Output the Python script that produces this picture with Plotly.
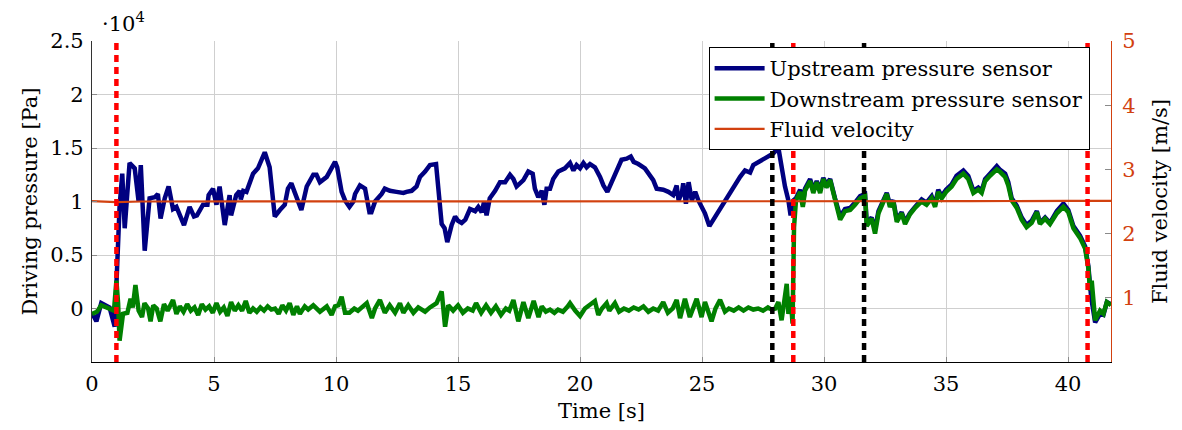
import plotly.graph_objects as go

# ---------------- data (pressure in units of 10^4 Pa, velocity in m/s) ----------------
up_t = [0.0, 0.18, 0.38, 0.72, 0.93, 1.0, 1.13, 1.24, 1.34, 1.54, 1.75, 1.91, 2.0, 2.16, 2.36, 2.57, 2.7, 2.81,
        2.98, 3.14, 3.32, 3.46, 3.77, 4.0, 4.18, 4.3, 4.55, 4.73, 4.78, 4.96, 5.1, 5.23, 5.44, 5.64, 5.7, 5.91,
        6.05, 6.1, 6.2, 6.33, 6.6, 6.8, 7.08, 7.28, 7.49, 7.7, 7.9, 8.03, 8.17, 8.3, 8.58, 8.8, 9.07, 9.2, 9.34,
        9.62, 9.82, 9.96, 10.05, 10.23, 10.37, 10.55, 10.71, 10.78, 10.98, 11.19, 11.37, 11.45, 11.6, 11.87,
        12.0, 12.21, 12.48, 12.76, 12.89, 13.1, 13.3, 13.44, 13.65, 13.85, 14.1, 14.19, 14.33, 14.45, 14.56,
        14.74, 14.88, 15.0, 15.15, 15.3, 15.49, 15.7, 15.83, 15.97, 16.07, 16.17, 16.3, 16.52, 16.72, 16.93,
        17.13, 17.27, 17.4, 17.68, 17.88, 18.06, 18.15, 18.29, 18.43, 18.54, 18.63, 18.77, 18.9, 19.11, 19.38,
        19.59, 19.73, 19.86, 20.0, 20.14, 20.27, 20.41, 20.61, 20.82, 20.96, 21.12, 21.3, 21.5, 21.7, 21.91,
        22.08, 22.2, 22.39, 22.66, 22.87, 23.0, 23.14, 23.41, 23.62, 23.82, 23.96, 24.04, 24.18, 24.23, 24.34,
        24.45, 24.58, 24.72, 24.85, 24.98, 25.12, 25.3, 25.46, 25.67, 25.87, 26.08, 26.2, 26.35, 26.56, 26.76,
        26.97, 27.1, 27.31, 27.51, 27.72, 27.92, 28.13, 28.26, 28.4, 28.54, 28.63, 28.74, 28.85, 29.02, 29.13,
        29.22, 29.43, 29.56, 29.7, 29.84, 29.97, 30.1, 30.25, 30.45, 30.66, 30.86, 31.07, 31.27, 31.48, 31.68,
        31.75, 31.95, 32.09, 32.23, 32.43, 32.57, 32.7, 32.84, 32.98, 33.18, 33.32, 33.52, 33.73, 34.0, 34.2,
        34.41, 34.55, 34.68, 34.82, 35.0, 35.23, 35.43, 35.71, 35.91, 36.12, 36.32, 36.46, 36.6, 36.8, 37.08,
        37.2, 37.42, 37.55, 37.69, 37.9, 38.1, 38.3, 38.51, 38.72, 38.85, 39.06, 39.26, 39.54, 39.81, 40.01,
        40.22, 40.49, 40.7, 40.83, 40.95, 41.11, 41.31, 41.45, 41.59, 41.76]
up_p = [-0.04, -0.12, 0.05, 0.01, -0.17, 0.33, 0.95, 1.26, 0.75, 1.36, 1.31, 1.00, 1.34, 0.54, 1.03, 1.04, 1.07, 0.84,
        1.03, 1.14, 0.93, 0.95, 0.78, 0.95, 0.86, 0.87, 0.97, 0.97, 1.06, 1.12, 0.97, 1.14, 0.78, 1.06, 0.87, 1.06,
        1.10, 1.02, 1.10, 1.09, 1.26, 1.31, 1.46, 1.32, 0.86, 0.92, 0.97, 1.12, 1.17, 1.09, 0.92, 1.14, 1.25, 1.25, 1.18,
        1.23, 1.32, 1.37, 1.32, 1.09, 1.01, 0.95, 1.00, 1.07, 1.15, 1.12, 0.90, 0.90, 1.00, 1.07,
        1.12, 1.10, 1.09, 1.08, 1.09, 1.10, 1.14, 1.23, 1.28, 1.34, 1.35, 1.10, 0.79, 0.75, 0.62,
        0.78, 0.86, 0.82, 0.80, 0.83, 0.93, 0.91, 0.95, 0.90, 1.00, 0.87, 1.03, 1.10, 1.18, 1.18,
        1.25, 1.21, 1.14, 1.20, 1.28, 1.26, 1.12, 1.04, 1.10, 0.97, 1.12, 1.12, 1.21, 1.28, 1.31,
        1.36, 1.29, 1.34, 1.31, 1.36, 1.32, 1.35, 1.32, 1.23, 1.15, 1.09, 1.18, 1.29, 1.39, 1.40,
        1.42, 1.37, 1.35, 1.31, 1.23, 1.20, 1.12, 1.11, 1.09, 1.06, 1.15, 1.01, 1.09, 1.17, 0.98,
        1.18, 1.01, 1.09, 1.01, 0.95, 0.89, 0.77, 0.83, 0.90, 0.98, 1.06, 1.10, 1.17, 1.23, 1.29,
        1.27, 1.34, 1.37, 1.40, 1.43, 1.45, 1.50, 1.32, 1.14, 1.01, 0.87, 1.01, 1.03, 1.11, 0.97,
        1.12, 1.21, 1.11, 1.19, 1.11, 1.22, 1.16, 1.21, 1.03, 0.86, 0.93, 0.94, 0.99, 1.05, 1.07,
        0.80, 0.85, 0.74, 0.91, 1.02, 1.08, 0.97, 1.01, 0.83, 0.90, 0.81, 0.89, 0.95, 1.02, 0.99,
        1.05, 0.97, 1.11, 1.05, 1.11, 1.16, 1.24, 1.29, 1.24, 1.10, 1.13, 1.10, 1.21, 1.26, 1.33,
        1.30, 1.26, 1.18, 1.03, 0.96, 0.85, 0.78, 0.82, 0.91, 0.80, 0.85, 0.80, 0.91, 0.98, 0.92,
        0.77, 0.68, 0.58, 0.40, 0.10, -0.13, -0.05, -0.06, 0.06, 0.04]

down_t = [0.0, 0.2, 0.38, 0.55, 0.72, 0.9, 1.0, 1.07, 1.13, 1.27, 1.45, 1.58, 1.67, 1.78, 1.91, 2.05, 2.15, 2.3,
          2.4, 2.51, 2.65, 2.8, 2.95, 3.1, 3.32, 3.46, 3.6, 3.75, 3.9, 4.05, 4.2, 4.35, 4.5, 4.65, 4.8, 4.95,
          5.1, 5.25, 5.4, 5.55, 5.7, 5.85, 6.0, 6.15, 6.3, 6.45, 6.6, 6.75, 6.9, 7.05, 7.2, 7.35, 7.5, 7.65,
          7.8, 7.95, 8.1, 8.25, 8.4, 8.52, 8.72, 8.86, 9.07, 9.34, 9.62, 9.82, 9.96, 10.1, 10.23, 10.37, 10.55,
          10.75, 10.9, 11.05, 11.26, 11.47, 11.6, 11.8, 12.0, 12.2, 12.42, 12.62, 12.76, 12.96, 13.17, 13.37,
          13.65, 13.85, 14.12, 14.33, 14.47, 14.6, 14.8, 15.0, 15.2, 15.4, 15.6, 15.74, 15.95, 16.15, 16.35,
          16.55, 16.76, 16.96, 17.1, 17.27, 17.47, 17.68, 17.88, 18.1, 18.3, 18.43, 18.6, 18.77, 18.95, 19.1,
          19.3, 19.5, 19.59, 19.8, 20.0, 20.2, 20.41, 20.61, 20.75, 20.9, 21.09, 21.2, 21.43, 21.6, 21.8, 22.0,
          22.2, 22.4, 22.6, 22.8, 23.0, 23.2, 23.41, 23.6, 23.8, 23.96, 24.1, 24.3, 24.5, 24.78, 24.98, 25.12,
          25.39, 25.55, 25.74, 25.94, 26.1, 26.3, 26.5, 26.7, 26.9, 27.1, 27.3, 27.5, 27.7, 27.85, 28.0, 28.13,
          28.26, 28.4, 28.47, 28.54, 28.63, 28.71, 28.77, 28.85, 29.02, 29.13, 29.22, 29.43, 29.56, 29.7, 29.84,
          29.97, 30.1, 30.25, 30.45, 30.66, 30.86, 31.07, 31.27, 31.48, 31.68, 31.75, 31.95, 32.09, 32.23, 32.43,
          32.57, 32.7, 32.84, 32.98, 33.18, 33.32, 33.52, 33.73, 34.0, 34.2, 34.41, 34.55, 34.68, 34.82, 35.0,
          35.23, 35.43, 35.71, 35.91, 36.12, 36.32, 36.46, 36.6, 36.8, 37.08, 37.2, 37.42, 37.55, 37.69, 37.9,
          38.1, 38.3, 38.51, 38.72, 38.85, 39.06, 39.26, 39.54, 39.81, 40.01, 40.22, 40.49, 40.7, 40.83, 40.9,
          40.97, 41.11, 41.31, 41.45, 41.59, 41.76]
down_p = [-0.05, -0.03, 0.03, 0.01, 0.0, -0.02, 0.26, 0.05, -0.30, -0.05, -0.04, 0.09, 0.01, 0.22, -0.02, -0.08, 0.05, 0.0,
          -0.12, 0.03, 0.0, -0.12, 0.04, -0.02, 0.08, -0.05, 0.02, -0.03, 0.04, -0.02, 0.01, -0.06, 0.04, -0.01, 0.02, -0.04,
          0.05, -0.03, 0.01, -0.07, 0.06, -0.02, 0.03, -0.02, 0.07, -0.04, 0.0, -0.03, 0.01, -0.02, 0.02, -0.01, 0.0, -0.05,
          0.03, -0.02, 0.05, -0.06, 0.02, -0.05, 0.02, -0.01, 0.03, -0.03, 0.02, -0.06, 0.02, 0.03, 0.11, -0.04, -0.04,
          0.0, -0.02, 0.01, 0.05, -0.09, 0.0, 0.08, -0.04, 0.03, -0.04, 0.05, -0.04, 0.03, -0.04, 0.01,
          -0.03, 0.01, 0.05, 0.16, -0.17, 0.03, -0.02, 0.03, -0.04, 0.0, -0.02, 0.05, -0.04, 0.03, -0.04,
          0.02, -0.06, 0.0, -0.02, 0.08, -0.12, 0.06, -0.09, 0.07, -0.08, 0.02, -0.03, -0.01, -0.04, -0.01,
          -0.03, 0.02, 0.05, -0.02, -0.07, 0.0, 0.03, 0.07, -0.06, 0.0, 0.05, -0.02, 0.05, -0.03, 0.0, -0.02,
          0.01, -0.01, 0.02, -0.03, 0.0, -0.02, 0.06, -0.04, 0.0, 0.08, -0.09, 0.09, -0.08, 0.09, -0.08, 0.06,
          -0.12, 0.0, 0.08, -0.03, 0.0, -0.02, 0.01, -0.02, 0.01, -0.01, 0.0, -0.02, 0.01, -0.01, 0.0, 0.06,
          -0.11, 0.14, 0.23, -0.05, 0.11, -0.14, 0.76, 1.01, 1.09, 0.95, 1.10, 1.19, 1.08, 1.18, 1.08,
          1.21, 1.13, 1.20, 1.00, 0.83, 0.91, 0.92, 0.97, 1.03, 1.05, 0.77, 0.84, 0.70, 0.89, 1.01,
          1.07, 0.95, 1.00, 0.81, 0.89, 0.79, 0.88, 0.94, 1.00, 0.97, 1.03, 0.95, 1.09, 1.03, 1.09,
          1.14, 1.21, 1.26, 1.21, 1.08, 1.11, 1.08, 1.19, 1.24, 1.30, 1.28, 1.23, 1.15, 1.01, 0.94,
          0.83, 0.76, 0.80, 0.90, 0.79, 0.84, 0.79, 0.89, 0.95, 0.90, 0.75, 0.66, 0.56, 0.38, 0.17,
          0.26, -0.11, -0.02, -0.05, 0.06, 0.03]

vel_t = [0.0, 1.0, 2.0, 5.0, 10.0, 15.0, 20.0, 25.0, 28.7, 32.0, 36.0, 40.0, 41.76]
vel_v = [2.505, 2.49, 2.50, 2.50, 2.50, 2.498, 2.505, 2.50, 2.50, 2.505, 2.505, 2.51, 2.51]

red_events = [1.0, 28.74, 40.8]
black_events = [27.88, 31.64]

left_ticks = [0, 0.5, 1, 1.5, 2, 2.5]
right_ticks = [1, 2, 3, 4, 5]
x_ticks = [0, 5, 10, 15, 20, 25, 30, 35, 40]

# ---------------- styling ----------------
FONT = "DejaVu Serif"
FS = 21
NAVY = "#000080"
GREEN = "#008000"
ORANGE = "#d2410f"
GRID = "#cfcfcf"
TICK = "#8a8a8a"

fig = go.Figure()
fig.add_trace(go.Scatter(x=up_t, y=up_p, mode="lines", name="Upstream pressure sensor",
                         line=dict(color=NAVY, width=4.5)))
fig.add_trace(go.Scatter(x=down_t, y=down_p, mode="lines", name="Downstream pressure sensor",
                         line=dict(color=GREEN, width=4.5)))
fig.add_trace(go.Scatter(x=vel_t, y=vel_v, mode="lines", name="Fluid velocity", yaxis="y2",
                         line=dict(color=ORANGE, width=2.2)))

for t in black_events:
    fig.add_shape(type="line", xref="x", yref="y", x0=t, x1=t, y0=-0.5, y1=2.5, layer="above",
                  line=dict(color="black", width=4.5, dash="7px,5px"))
for t in red_events:
    fig.add_shape(type="line", xref="x", yref="y", x0=t, x1=t, y0=-0.5, y1=2.5, layer="above",
                  line=dict(color="#ff0000", width=4.5, dash="7px,5px"))

fig.add_annotation(text="·10<sup>4</sup>", xref="paper", yref="paper", x=0.008, y=1.058,
                   xanchor="left", yanchor="middle", showarrow=False,
                   font=dict(family=FONT, size=FS, color="black"))

# the page adds an 8px body margin, so the figure is sized to fit the 1182x430 window
fig.update_layout(
    width=1174, height=422,
    margin=dict(l=84, r=71, t=33, b=68),
    paper_bgcolor="white", plot_bgcolor="white",
    font=dict(family=FONT, size=FS, color="black"),
    showlegend=True,
    legend=dict(x=0.979, xanchor="right", y=0.981, yanchor="top",
                bgcolor="white", bordercolor="black", borderwidth=1, itemwidth=50,
                font=dict(family=FONT, size=FS, color="black"), tracegroupgap=0),
    xaxis=dict(range=[0, 41.76], tickvals=x_ticks, ticktext=[str(v) for v in x_ticks],
               showgrid=True, gridcolor=GRID, gridwidth=1, zeroline=False,
               showline=True, linecolor="black", linewidth=1.2,
               ticks="inside", ticklen=5, tickcolor=TICK, ticklabelstandoff=3,
               tickfont=dict(family=FONT, size=FS),
               title=dict(text="Time [s]", font=dict(family=FONT, size=FS), standoff=8),
               automargin=False),
    yaxis=dict(range=[-0.5, 2.5], tickvals=left_ticks, ticktext=["0", "0.5", "1", "1.5", "2", "2.5"],
               showgrid=True, gridcolor=GRID, gridwidth=1, zeroline=False,
               showline=True, linecolor="#333333", linewidth=1.2,
               ticks="inside", ticklen=5, tickcolor=TICK, ticklabelstandoff=3,
               tickfont=dict(family=FONT, size=FS),
               title=dict(text="Driving pressure [Pa]", font=dict(family=FONT, size=FS), standoff=6),
               automargin=False),
    yaxis2=dict(range=[0, 5], tickvals=right_ticks, ticktext=[str(v) for v in right_ticks],
                overlaying="y", side="right", showgrid=False, zeroline=False,
                showline=True, linecolor=ORANGE, linewidth=1.2,
                ticks="inside", ticklen=6, tickcolor=TICK, ticklabelstandoff=6,
                tickfont=dict(family=FONT, size=FS, color=ORANGE),
                title=dict(text="Fluid velocity [m/s]", font=dict(family=FONT, size=FS, color="black"),
                           standoff=17),
                automargin=False),
)

fig.write_html("out.html")
